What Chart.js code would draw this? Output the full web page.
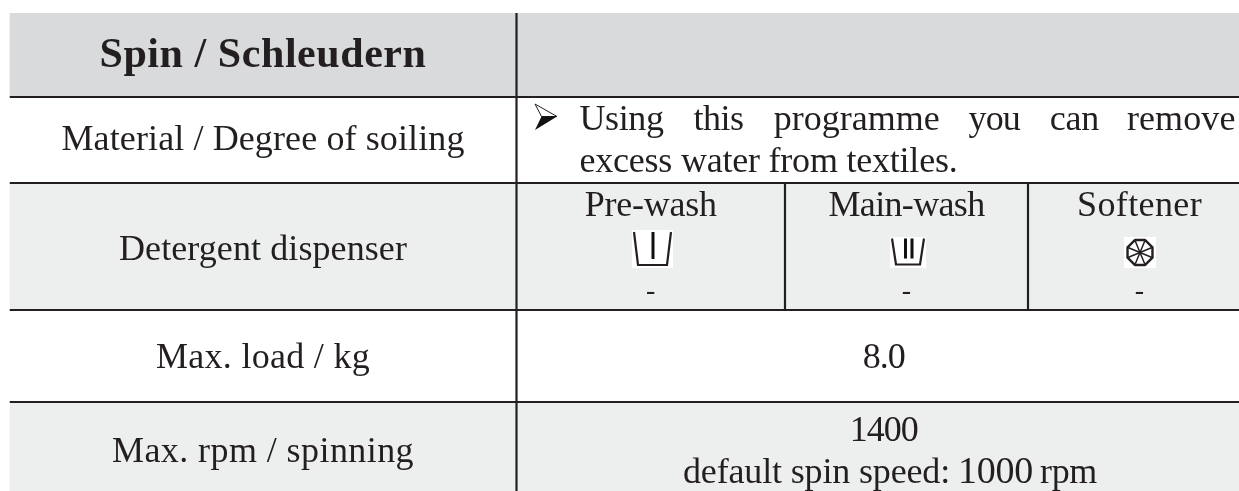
<!DOCTYPE html>
<html>
<head>
<meta charset="utf-8">
<title>Spin / Schleudern</title>
<script src="https://cdn.jsdelivr.net/npm/chart.js@4"></script>
<style>
  html, body { margin: 0; padding: 0; background: #fff; overflow: hidden; }
  canvas { display: block; }
</style>
</head>
<body>
<canvas id="chart" width="1239" height="491"></canvas>
<script>
// table content
const rowLabels = ["Spin / Schleudern", "Material / Degree of soiling", "Detergent dispenser", "Max. load / kg", "Max. rpm / spinning"];
const rowHeights = [84, 86, 127, 92, 89];
const columnWidths = [507, 268.5, 243, 223];
const dispenserNames = ["Pre-wash", "Main-wash", "Softener"];
const dispenserValues = ["-", "-", "-"];
const noteWords = ["Using", "this", "programme", "you", "can", "remove"];
const noteSecondLine = "excess water from textiles.";
const maxLoad = "8.0";
const maxRpm = "1400";
const defaultSpin = ["default spin speed:", "1000", "rpm"];

// look of the table
const ink = "#231f20";
const rowColors = ["#d9dadc", "#ffffff", "#edefee", "#ffffff", "#edefee"];
const serif = '"Liberation Serif", serif';

// cumulative edges, in table units (1 unit = 1 px)
function edges(sizes) {
  const out = [0];
  sizes.forEach((s) => out.push(out[out.length - 1] + s));
  return out;
}
const rowEdges = edges(rowHeights);
const colEdges = edges(columnWidths);
const cellCentre = (i) => (colEdges[i] + colEdges[i + 1]) / 2;
const labelCentre = cellCentre(0);
const valueCentre = (colEdges[1] + colEdges[4]) / 2;
const tableHeight = rowEdges[rowEdges.length - 1];
const visibleWidth = 1229.5;

// text placement: baseline y and fitted width
const labelLines = [
  { y: 53.5, w: 327 },
  { y: 137, w: 403 },
  { y: 247, w: 288 },
  { y: 355, w: 214 },
  { y: 448.5, w: 302 }
];
const noteSlots = [
  [570, 84], [683.9, 50], [764.2, 166], [959.1, 51.4], [1040.3, 49.1], [1117.4, 108.7]
];

function iconCanvas(w, h, paint) {
  const c = document.createElement("canvas");
  c.width = w;
  c.height = h;
  const g = c.getContext("2d");
  paint(g);
  return c;
}

function cupIcon(w, h, bars) {
  return iconCanvas(w, h, (g) => {
    g.fillStyle = "#fff";
    g.fillRect(0, 0, w, h);
    g.strokeStyle = ink;
    g.lineWidth = 2.2;
    g.beginPath();
    g.moveTo(2, 2);
    g.lineTo(6, h - 3);
    g.lineTo(w - 6, h - 3);
    g.lineTo(w - 2, 2);
    g.stroke();
    g.fillStyle = "#111";
    bars.forEach((bx) => g.fillRect(bx, 2, 3, h - 11));
  });
}

const softenerIcon = iconCanvas(32, 31, (g) => {
  g.fillStyle = "#fff";
  g.fillRect(0, 0, 32, 31);
  g.translate(16, 15.5);
  g.strokeStyle = ink;
  g.lineWidth = 2.4;
  g.lineJoin = "round";
  g.beginPath();
  for (let i = 0; i < 8; i++) {
    const a = Math.PI / 8 + i * Math.PI / 4;
    g.lineTo(13.5 * Math.cos(a), 13.5 * Math.sin(a));
  }
  g.closePath();
  g.stroke();
  g.lineWidth = 1.5;
  for (let i = 0; i < 8; i++) {
    const a = Math.PI / 8 + i * Math.PI / 4;
    g.beginPath();
    g.moveTo(0, 0);
    g.lineTo(13 * Math.cos(a), 13 * Math.sin(a));
    g.stroke();
  }
});

const bulletIcon = iconCanvas(24, 28, (g) => {
  g.strokeStyle = ink;
  g.lineWidth = 1;
  g.fillStyle = "#fff";
  g.beginPath();
  g.moveTo(1, 1);
  g.lineTo(23, 13.5);
  g.lineTo(7.5, 13.5);
  g.closePath();
  g.fill();
  g.stroke();
  g.fillStyle = "#111";
  g.beginPath();
  g.moveTo(7.5, 13.5);
  g.lineTo(23, 13.5);
  g.lineTo(1, 27);
  g.closePath();
  g.fill();
});

const rule = (x1, y1, x2, y2) => ({
  type: "scatter",
  xAxisID: "x",
  yAxisID: "y",
  data: [{ x: x1, y: y1 }, { x: x2, y: y2 }],
  showLine: true,
  borderColor: ink,
  borderWidth: 2.2,
  pointRadius: 0
});

const bands = rowHeights.map((h, i) => ({
  type: "bar",
  xAxisID: "band",
  yAxisID: "y",
  data: [[rowEdges[i], rowEdges[i + 1]]],
  backgroundColor: rowColors[i],
  barPercentage: 1,
  categoryPercentage: 1,
  grouped: false,
  order: 10
}));

const rules = [
  ...rowEdges.slice(1, 5).map((y) => rule(0, y, visibleWidth, y)),
  rule(colEdges[1], 0, colEdges[1], tableHeight),
  rule(colEdges[2], rowEdges[2], colEdges[2], rowEdges[3]),
  rule(colEdges[3], rowEdges[2], colEdges[3], rowEdges[3])
];

const icons = {
  type: "scatter",
  xAxisID: "x",
  yAxisID: "y",
  data: [
    { x: 643, y: 236 },
    { x: 898.5, y: 239 },
    { x: 1130.5, y: 239.5 },
    { x: 536.5, y: 104 }
  ],
  pointStyle: [cupIcon(41, 38, [19.5]), cupIcon(36, 31, [14, 20.5]), softenerIcon, bulletIcon],
  pointRadius: 10,
  order: 0
};

function fitText(ctx, text, font, x, y, width, align) {
  ctx.font = font;
  ctx.letterSpacing = "0px";
  const natural = ctx.measureText(text).width;
  const spacing = (width - natural) / text.length;
  ctx.letterSpacing = spacing.toFixed(3) + "px";
  const left = align === "center" ? x - width / 2 : x;
  ctx.textAlign = "left";
  ctx.fillText(text, left, y);
  ctx.letterSpacing = "0px";
}

const tableText = {
  id: "tableText",
  afterDatasetsDraw(chart) {
    const { ctx, scales } = chart;
    const px = (v) => scales.x.getPixelForValue(v);
    const py = (v) => scales.y.getPixelForValue(v);
    const body = "36px " + serif;
    ctx.save();
    ctx.fillStyle = ink;
    ctx.textBaseline = "alphabetic";

    rowLabels.forEach((label, i) => {
      const font = i === 0 ? "bold 42px " + serif : body;
      fitText(ctx, label, font, px(labelCentre), py(labelLines[i].y), labelLines[i].w, "center");
    });

    noteWords.forEach((word, i) => {
      fitText(ctx, word, body, px(noteSlots[i][0]), py(117), noteSlots[i][1], "left");
    });
    fitText(ctx, noteSecondLine, body, px(570), py(158.5), 378, "left");

    const dispenserWidths = [132, 156, 125];
    dispenserNames.forEach((name, i) => {
      const c = cellCentre(i + 1);
      fitText(ctx, name, body, px(c), py(203), dispenserWidths[i], "center");
      ctx.font = "28px " + serif;
      ctx.textAlign = "center";
      ctx.fillText(dispenserValues[i], px(c), py(286));
    });

    fitText(ctx, maxLoad, body, px(valueCentre), py(355), 42, "center");
    fitText(ctx, maxRpm, body, px(valueCentre), py(428), 68, "center");
    fitText(ctx, defaultSpin[0], body, px(673.5), py(469.7), 267, "left");
    fitText(ctx, defaultSpin[1], "38px " + serif, px(948.5), py(469.7), 75, "left");
    fitText(ctx, defaultSpin[2], body, px(1030.5), py(469.7), 57, "left");
    ctx.restore();
  }
};

new Chart(document.getElementById("chart"), {
  data: {
    labels: ["table"],
    datasets: [...bands, ...rules, icons]
  },
  plugins: [tableText],
  options: {
    responsive: false,
    animation: false,
    layout: { autoPadding: false, padding: { left: 9.5, top: 13, right: 0, bottom: 0 } },
    plugins: { legend: { display: false }, tooltip: { enabled: false } },
    scales: {
      band: { type: "category", display: false, labels: ["table"] },
      x: { type: "linear", display: false, min: 0, max: visibleWidth },
      y: { type: "linear", display: false, min: 0, max: tableHeight, reverse: true }
    }
  }
});
</script>
</body>
</html>
